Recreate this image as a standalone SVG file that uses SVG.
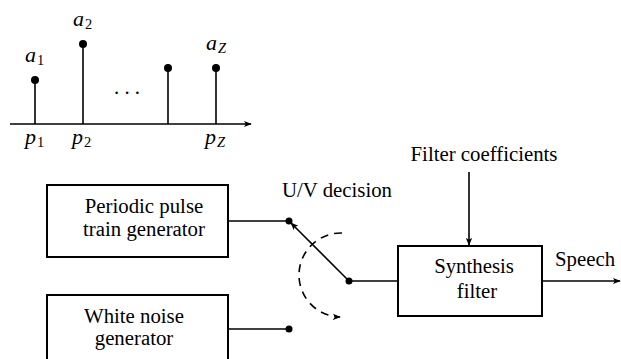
<svg xmlns="http://www.w3.org/2000/svg" width="621" height="359" viewBox="0 0 621 359">
<style>
.ln{stroke:#000;stroke-width:1.6;fill:none}
.box{stroke:#000;stroke-width:2;fill:#fff}
text{font-family:'Liberation Serif',Tinos,'DejaVu Serif',serif;fill:#000}
.t{font-size:20.8px}
.m{font-style:italic;font-size:22px}
.s{font-size:14.5px;font-style:normal}
.si{font-style:italic;font-size:14.5px}
</style>
<defs>
<marker id="ah" viewBox="0 0 10 10" refX="9" refY="5" markerWidth="8" markerHeight="8" markerUnits="userSpaceOnUse" orient="auto">
<path d="M0,1 L10,5 L0,9 L2.5,5 Z" fill="#000"/>
</marker>
</defs>
<g id="stem-plot">
<line class="ln" x1="10" y1="124" x2="251" y2="124" marker-end="url(#ah)"/>
<line class="ln" x1="35" y1="124" x2="35" y2="80"/>
<circle cx="35" cy="80" r="4"/>
<line class="ln" x1="83" y1="124" x2="83" y2="44"/>
<circle cx="83" cy="44" r="4"/>
<line class="ln" x1="168" y1="124" x2="168" y2="68"/>
<circle cx="168" cy="68" r="4"/>
<line class="ln" x1="216" y1="124" x2="216" y2="68"/>
<circle cx="216" cy="68" r="4"/>
<text class="m" x="25" y="62">a<tspan class="s" dy="3" dx="1">1</tspan></text>
<text class="m" x="73" y="26">a<tspan class="s" dy="3" dx="1">2</tspan></text>
<text class="m" x="206" y="50">a<tspan class="si" dy="3" dx="1">Z</tspan></text>
<text class="t" x="127" y="94" text-anchor="middle">. . .</text>
<text class="m" x="25" y="144">p<tspan class="s" dy="3" dx="1">1</tspan></text>
<text class="m" x="72" y="144">p<tspan class="s" dy="3" dx="1">2</tspan></text>
<text class="m" x="205" y="144">p<tspan class="si" dy="3" dx="1">Z</tspan></text>
</g>
<g id="pulse-generator">
<rect class="box" x="47" y="185" width="181" height="72"/>
<text class="t" x="144" y="213" text-anchor="middle">Periodic pulse</text>
<text class="t" x="144" y="236" text-anchor="middle">train generator</text>
</g>
<g id="noise-generator">
<rect class="box" x="47" y="295" width="181" height="80"/>
<text class="t" x="134" y="323" text-anchor="middle">White noise</text>
<text class="t" x="134" y="345" text-anchor="middle">generator</text>
</g>
<g id="synthesis-filter">
<rect class="box" x="398" y="246" width="144" height="70"/>
<text class="t" x="474" y="273" text-anchor="middle">Synthesis</text>
<text class="t" x="477" y="298" text-anchor="middle">filter</text>
</g>
<g id="labels">
<text class="t" x="337" y="197" text-anchor="middle">U/V decision</text>
<text class="t" x="484" y="161" text-anchor="middle">Filter coefficients</text>
<text class="t" x="585" y="266" text-anchor="middle">Speech</text>
</g>
<g id="switch">
<circle cx="289" cy="221" r="3.5"/>
<circle cx="289" cy="329" r="3.5"/>
<circle cx="349" cy="281" r="3.5"/>
</g>
<g id="connectors">
<line class="ln" x1="228" y1="221" x2="289" y2="221"/>
<line class="ln" x1="228" y1="329" x2="289" y2="329"/>
<line class="ln" x1="349" y1="281" x2="291" y2="223" marker-end="url(#ah)"/>
<line class="ln" x1="349" y1="281" x2="398" y2="281"/>
<line class="ln" x1="542" y1="281" x2="620" y2="281" marker-end="url(#ah)"/>
<line class="ln" x1="469" y1="172" x2="469" y2="245" marker-end="url(#ah)"/>
<path class="ln" d="M342,233 A42,42 0 0 0 340,317" stroke-dasharray="8,6" marker-end="url(#ah)"/>
</g>
</svg>
